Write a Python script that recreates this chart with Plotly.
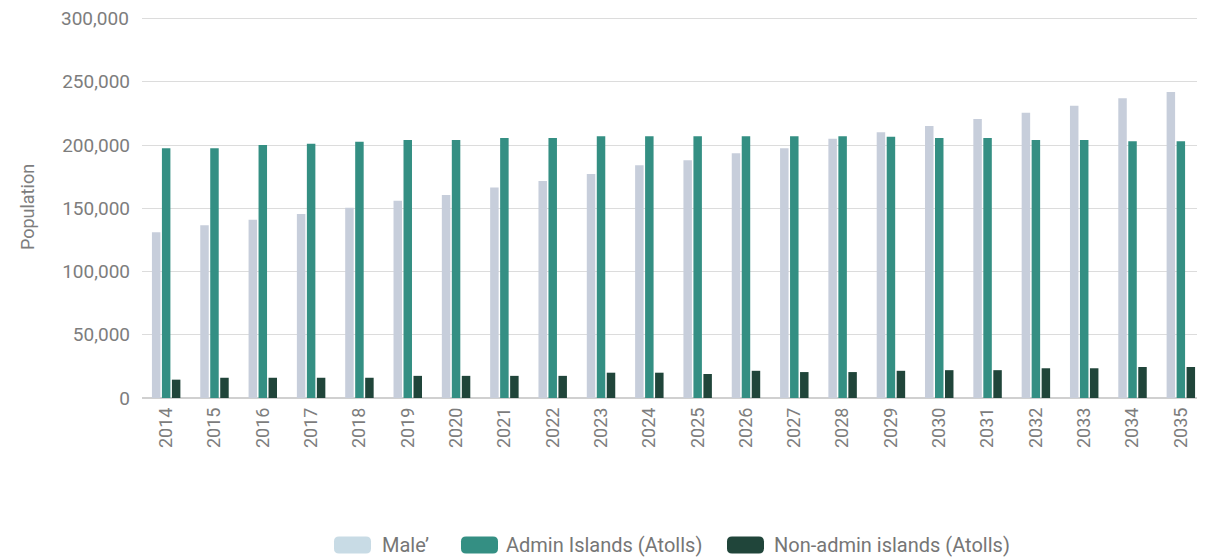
import plotly.graph_objects as go

years = [str(y) for y in range(2014, 2036)]
male = [131000, 136500, 141000, 145500, 150500, 156000, 160500, 166500, 171500, 177000,
        184000, 188000, 193500, 197500, 205000, 210000, 215000, 220500, 225500, 231000, 237000, 242000]
admin = [197500, 197500, 200000, 201000, 202500, 204000, 204000, 205500, 205500, 207000,
         207000, 207000, 207000, 207000, 207000, 206500, 205500, 205500, 204000, 204000, 203000, 203000]
nonadmin = [14500, 16000, 16000, 16000, 16000, 17500, 17500, 17500, 17500, 20000,
            20000, 19000, 21500, 20500, 20500, 21500, 22000, 22000, 23500, 23500, 24500, 24500]
y_ticks = [0, 50000, 100000, 150000, 200000, 250000, 300000]

names = ["Male’", "Admin Islands (Atolls)", "Non-admin islands (Atolls)"]
colors = ["#c7cedb", "#348f83", "#20453a"]
legend_colors = ["#c8dbe5", "#348f83", "#20453a"]
text_color = "#7d7d7d"

# page body has an 8px margin; figure sized/positioned to compensate
OFF = 8
W, H = 1197, 552
L, R, T, B = 134, 0, 8, 162
PW, PH = W - L - R, H - T - B
YMAX = 302000

fig = go.Figure()
for vals, name, col in zip([male, admin, nonadmin], names, colors):
    fig.add_trace(go.Bar(x=years, y=vals, name=name, marker_color=col,
                         marker_line_width=0, showlegend=False))

# custom legend (rounded swatches); positions given in screen pixels
def px2x(px):
    return (px - OFF - L) / PW

def px2y(py):
    return (H - B - (py - OFF)) / PH

swatch_left = [334, 461, 727]
text_left = [380, 504, 772]
sw_w, sw_h, rad = 37, 17, 5
ly = 545
shapes = []
annotations = []
for sl, tl, name, col in zip(swatch_left, text_left, names, legend_colors):
    x0, x1 = sl, sl + sw_w
    y0, y1 = ly - sw_h / 2, ly + sw_h / 2
    pts = [
        ("M", x0 + rad, y0), ("L", x1 - rad, y0), ("Q", x1, y0, x1, y0 + rad),
        ("L", x1, y1 - rad), ("Q", x1, y1, x1 - rad, y1), ("L", x0 + rad, y1),
        ("Q", x0, y1, x0, y1 - rad), ("L", x0, y0 + rad), ("Q", x0, y0, x0 + rad, y0),
    ]
    path = ""
    for p in pts:
        cmd = p[0]
        coords = p[1:]
        segs = []
        for i in range(0, len(coords), 2):
            segs.append(f"{px2x(coords[i]):.5f},{px2y(coords[i+1]):.5f}")
        path += cmd + " ".join(segs) + " "
    path += "Z"
    shapes.append(dict(type="path", path=path, xref="paper", yref="paper",
                       fillcolor=col, line=dict(width=0)))
    annotations.append(dict(text=name, x=px2x(tl), y=px2y(ly), xref="paper", yref="paper",
                            xanchor="left", yanchor="middle", showarrow=False,
                            font=dict(size=20, color="#767676")))

# top tick label drawn as annotation (the native one is hidden at the figure edge)
tick_text = [f"{v:,}" for v in y_ticks]
annotations.append(dict(text=tick_text[-1], x=0, xref="paper", xshift=-11, xanchor="right",
                        y=y_ticks[-1], yref="y", yanchor="middle", showarrow=False,
                        font=dict(size=19, color=text_color)))
tick_text[-1] = ""

fig.update_layout(
    width=W, height=H,
    margin=dict(l=L, r=R, t=T, b=B),
    plot_bgcolor="white", paper_bgcolor="white",
    font=dict(family="Roboto", size=18, color=text_color),
    barmode="group", bargap=0.38, bargroupgap=0.15,
    showlegend=False,
    shapes=shapes, annotations=annotations,
    xaxis=dict(type="category", tickangle=-90, showgrid=False, ticks="",
               automargin=False,
               ticklabelstandoff=5, tickfont=dict(size=18, color=text_color)),
    yaxis=dict(range=[0, YMAX], tickmode="array", tickvals=y_ticks, ticktext=tick_text,
               showgrid=True, automargin=False,
               gridcolor="#dcdcdc", gridwidth=1, zeroline=True, zerolinecolor="#d0d0d0",
               zerolinewidth=2, ticklabelstandoff=11,
               title=dict(text="Population", standoff=22, font=dict(size=18, color=text_color)),
               tickfont=dict(size=19, color=text_color)),
)
fig.write_html("out.html")
